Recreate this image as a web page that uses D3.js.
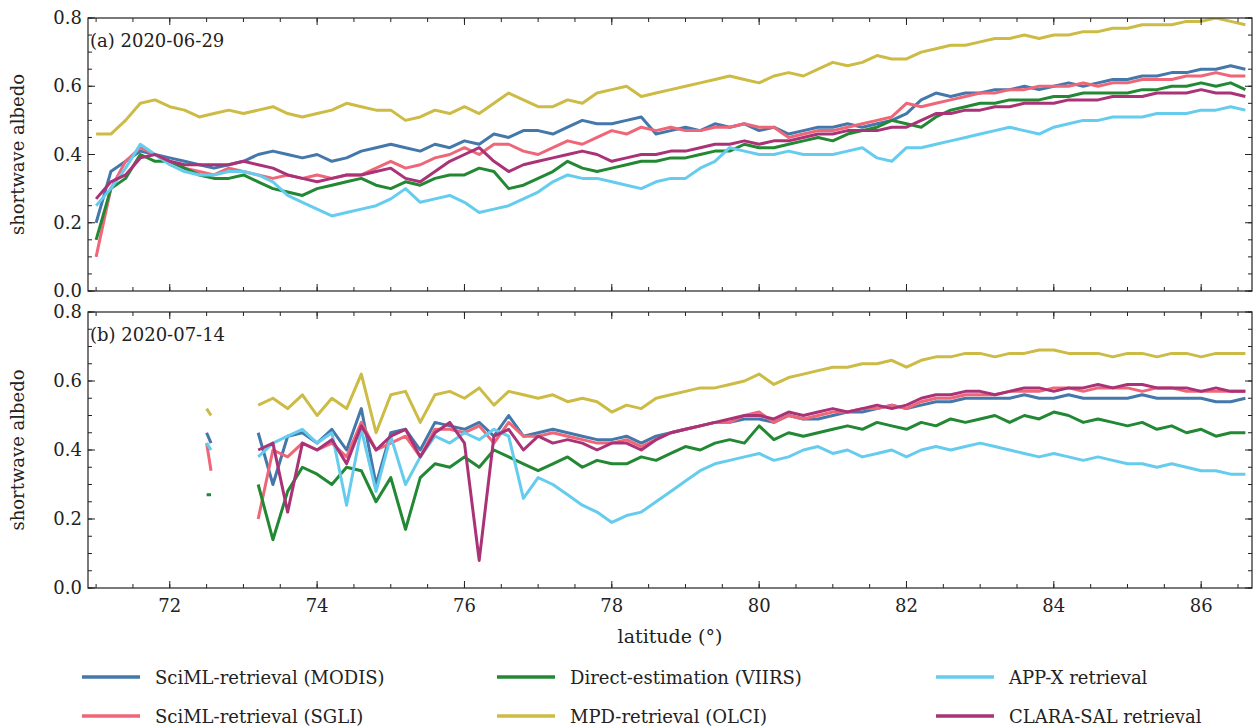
<!DOCTYPE html>
<html><head><meta charset="utf-8">
<script src="https://cdn.jsdelivr.net/npm/d3@7"></script>
<style>body{margin:0;background:#fff}svg text{font-family:"DejaVu Serif","Liberation Serif",serif;fill:#222}</style>
</head><body><div id="chart"></div>
<script>
// latitudes for panel (a): 71.0 .. 86.6 every 0.2
const latA = d3.range(0, 79).map(i => +(71.0 + i * 0.2).toFixed(1));
// panel (b): a short patch at 72.5, gap, then 73.2 .. 86.6
const latB = [72.50, 72.56, 72.62].concat(d3.range(0, 68).map(i => +(73.2 + i * 0.2).toFixed(1)));

const names = ["SciML-retrieval (MODIS)", "SciML-retrieval (SGLI)", "Direct-estimation (VIIRS)",
  "MPD-retrieval (OLCI)", "APP-X retrieval", "CLARA-SAL retrieval"];
const colors = ["#4477AA", "#EE6677", "#228833", "#CCBB44", "#66CCEE", "#AA3377"];

const modisA = [.20,.35,.38,.41,.40,.39,.38,.37,.36,.37, .38,.40,.41,.40,.39,.40,.38,.39,.41,.42,
  .43,.42,.41,.43,.42,.44,.43,.46,.45,.47, .47,.46,.48,.50,.49,.49,.50,.51,.46,.47,
  .48,.47,.49,.48,.49,.47,.48,.46,.47,.48, .48,.49,.48,.49,.50,.52,.56,.58,.57,.58,
  .58,.59,.59,.60,.59,.60,.61,.60,.61,.62, .62,.63,.63,.64,.64,.65,.65,.66,.65];
const sgliA = [.10,.30,.38,.42,.40,.38,.36,.35,.34,.36, .35,.34,.33,.34,.33,.34,.33,.34,.34,.36,
  .38,.36,.37,.39,.40,.42,.40,.43,.43,.41, .40,.42,.44,.43,.45,.47,.46,.48,.47,.48,
  .47,.47,.48,.48,.49,.48,.48,.45,.46,.47, .47,.48,.49,.50,.51,.55,.54,.55,.56,.57,
  .58,.58,.59,.59,.60,.60,.60,.61,.60,.61, .61,.62,.62,.62,.63,.63,.64,.63,.63];
const viirsA = [.15,.30,.33,.40,.38,.38,.36,.34,.33,.33, .34,.32,.30,.29,.28,.30,.31,.32,.33,.31,
  .30,.32,.31,.33,.34,.34,.36,.35,.30,.31, .33,.35,.38,.36,.35,.36,.37,.38,.38,.39,
  .39,.40,.41,.41,.43,.42,.42,.43,.44,.45, .44,.46,.47,.48,.50,.49,.48,.51,.53,.54,
  .55,.55,.56,.56,.56,.57,.57,.58,.58,.58, .58,.59,.59,.60,.60,.61,.60,.61,.59];
const olciA = [.46,.46,.50,.55,.56,.54,.53,.51,.52,.53, .52,.53,.54,.52,.51,.52,.53,.55,.54,.53,
  .53,.50,.51,.53,.52,.54,.52,.55,.58,.56, .54,.54,.56,.55,.58,.59,.60,.57,.58,.59,
  .60,.61,.62,.63,.62,.61,.63,.64,.63,.65, .67,.66,.67,.69,.68,.68,.70,.71,.72,.72,
  .73,.74,.74,.75,.74,.75,.75,.76,.76,.77, .77,.78,.78,.78,.79,.79,.80,.79,.78];
const appxA = [.25,.30,.36,.43,.40,.37,.35,.34,.34,.35, .35,.34,.32,.28,.26,.24,.22,.23,.24,.25,
  .27,.30,.26,.27,.28,.26,.23,.24,.25,.27, .29,.32,.34,.33,.33,.32,.31,.30,.32,.33,
  .33,.36,.38,.42,.41,.40,.40,.41,.40,.40, .40,.41,.42,.39,.38,.42,.42,.43,.44,.45,
  .46,.47,.48,.47,.46,.48,.49,.50,.50,.51, .51,.51,.52,.52,.52,.53,.53,.54,.53];
const claraA = [.27,.32,.34,.39,.40,.38,.37,.37,.37,.37, .38,.37,.36,.34,.33,.32,.33,.34,.34,.35,
  .36,.33,.32,.35,.38,.40,.42,.38,.35,.37, .38,.39,.40,.41,.40,.38,.39,.40,.40,.41,
  .41,.42,.43,.43,.44,.43,.44,.44,.45,.46, .46,.47,.47,.47,.48,.48,.50,.52,.52,.53,
  .53,.54,.54,.55,.55,.55,.56,.56,.56,.57, .57,.57,.58,.58,.58,.59,.58,.58,.57];

const modisB = [.45,.42,null,
  .45,.30,.44,.45,.42,.46,.40,.52,.30,.45,.46,.40,.48,.47,.46,.48,.44,.50,.44,
  .45,.46,.45,.44,.43,.43, .44,.42,.44,.45,.46,.47,.48,.48,.49,
  .49,.48,.50,.49,.49,.50,.51,.51,.52,.53, .52,.53,.54,.54,.55,
  .55,.55,.55,.56,.55,.55,.56,.55,.55,.55,.55,.56,.55,.55,.55,.55,.54,.54,.55];
const sgliB = [.42,.34,null,
  .20,.40,.38,.42,.40,.42,.38,.48,.40,.42,.44,.38,.46,.46,.45,.47,.42,.48,.44,
  .44,.45,.44,.43,.42,.42, .43,.41,.43,.45,.46,.47,.48,.48,.50,
  .51,.48,.50,.49,.50,.51,.51,.52,.52,.53, .52,.54,.55,.55,.56,
  .56,.56,.57,.57,.57,.58,.58,.57,.58,.58,.58,.57,.58,.58,.57,.57,.57,.57,.57];
const viirsB = [.27,.27,null,
  .30,.14,.28,.35,.33,.30,.35,.34,.25,.32,.17,.32,.36,.35,.38,.35,.40,.38,.36,
  .34,.36,.38,.35,.37,.36, .36,.38,.37,.39,.41,.40,.42,.43,.42,
  .47,.43,.45,.44,.45,.46,.47,.46,.48,.47, .46,.48,.47,.49,.48,
  .49,.50,.48,.50,.49,.51,.50,.48,.49,.48,.47,.48,.46,.47,.45,.46,.44,.45,.45];
const olciB = [.52,.50,null,
  .53,.55,.52,.56,.50,.55,.52,.62,.45,.56,.57,.48,.56,.57,.55,.58,.53,.57,.56,
  .55,.56,.54,.55,.54,.51, .53,.52,.55,.56,.57,.58,.58,.59,.60,
  .62,.59,.61,.62,.63,.64,.64,.65,.65,.66, .64,.66,.67,.67,.68,
  .68,.67,.68,.68,.69,.69,.68,.68,.68,.67,.68,.68,.67,.68,.68,.67,.68,.68,.68];
const appxB = [.42,.40,null,
  .38,.42,.44,.46,.42,.45,.24,.46,.28,.44,.30,.38,.44,.42,.45,.43,.46,.44,.26,
  .32,.30,.27,.24,.22,.19, .21,.22,.25,.28,.31,.34,.36,.37,.38,
  .39,.37,.38,.40,.41,.39,.40,.38,.39,.40, .38,.40,.41,.40,.41,
  .42,.41,.40,.39,.38,.39,.38,.37,.38,.37,.36,.36,.35,.36,.35,.34,.34,.33,.33];
const claraB = [null,null,null,
  .40,.42,.22,.42,.40,.43,.36,.47,.40,.44,.46,.38,.45,.48,.42,.08,.44,.46,.40,
  .44,.42,.43,.42,.40,.42, .42,.40,.43,.45,.46,.47,.48,.49,.50,
  .50,.49,.51,.50,.51,.52,.51,.52,.53,.52, .53,.55,.56,.56,.57,
  .57,.56,.57,.58,.58,.57,.58,.58,.59,.58,.59,.59,.58,.58,.58,.57,.58,.57,.57];

const panels = [
  {label: "(a) 2020-06-29", lat: latA, series: [modisA, sgliA, viirsA, olciA, appxA, claraA], top: 18, bottom: 291},
  {label: "(b) 2020-07-14", lat: latB, series: [modisB, sgliB, viirsB, olciB, appxB, claraB], top: 312, bottom: 588}
];

const width = 1256, height = 728;
const left = 88, right = 1252;
const svg = d3.select("#chart").append("svg").attr("width", width).attr("height", height)
  .attr("font-family", "DejaVu Serif, Liberation Serif, serif");

const x = d3.scaleLinear().domain([70.89, 86.69]).range([left, right]);

panels.forEach((p, pi) => {
  const y = d3.scaleLinear().domain([0, 0.8]).range([p.bottom, p.top]);
  const g = svg.append("g");
  g.append("clipPath").attr("id", "clip" + pi).append("rect")
    .attr("x", left).attr("y", p.top).attr("width", right - left).attr("height", p.bottom - p.top);

  const line = d3.line().defined(d => d[1] != null).x(d => x(d[0])).y(d => y(d[1]));
  p.series.forEach((s, i) => {
    g.append("path").attr("clip-path", `url(#clip${pi})`)
      .attr("d", line(p.lat.map((l, j) => [l, s[j]])))
      .attr("fill", "none").attr("stroke", colors[i]).attr("stroke-width", 3)
      .attr("stroke-linejoin", "round");
  });

  // inward ticks on all four sides
  const xMajor = d3.range(72, 87, 2), xMinor = d3.range(71, 86.7, 0.5);
  const yMajor = d3.range(0, 0.81, 0.2), yMinor = d3.range(0, 0.81, 0.05);
  const tk = (xs, len, horiz) => xs.forEach(v => {
    if (horiz) {
      const px = x(v);
      g.append("line").attr("x1", px).attr("x2", px).attr("y1", p.bottom).attr("y2", p.bottom - len).attr("stroke", "#222");
      g.append("line").attr("x1", px).attr("x2", px).attr("y1", p.top).attr("y2", p.top + len).attr("stroke", "#222");
    } else {
      const py = y(v);
      g.append("line").attr("x1", left).attr("x2", left + len).attr("y1", py).attr("y2", py).attr("stroke", "#222");
      g.append("line").attr("x1", right).attr("x2", right - len).attr("y1", py).attr("y2", py).attr("stroke", "#222");
    }
  });
  tk(xMinor, 4, true); tk(xMajor, 7, true); tk(yMinor, 4, false); tk(yMajor, 7, false);

  g.append("rect").attr("x", left).attr("y", p.top).attr("width", right - left).attr("height", p.bottom - p.top)
    .attr("fill", "none").attr("stroke", "#222").attr("stroke-width", 1.2);

  yMajor.forEach(v => g.append("text").attr("x", left - 6).attr("y", y(v) + 6)
    .attr("text-anchor", "end").attr("font-size", 18).text(d3.format(".1f")(v)));
  if (pi === 1) xMajor.forEach(v => g.append("text").attr("x", x(v)).attr("y", p.bottom + 24)
    .attr("text-anchor", "middle").attr("font-size", 18).text(v));

  g.append("text").attr("x", left + 2).attr("y", p.top + 29).attr("font-size", 18).text(p.label);
  g.append("text").attr("transform", `translate(24,${(p.top + p.bottom) / 2}) rotate(-90)`)
    .attr("text-anchor", "middle").attr("font-size", 18).text("shortwave albedo");
});

svg.append("text").attr("x", (left + right) / 2).attr("y", 643).attr("text-anchor", "middle")
  .attr("font-size", 19).text("latitude (°)");

// legend: 3 columns x 2 rows
const colX = [82, 497, 936], rowY = [677, 716];
const order = [0, 2, 4, 1, 3, 5];
order.forEach((si, k) => {
  const cx = colX[k % 3], cy = rowY[Math.floor(k / 3)];
  svg.append("line").attr("x1", cx).attr("x2", cx + 58).attr("y1", cy).attr("y2", cy)
    .attr("stroke", colors[si]).attr("stroke-width", 3.5);
  svg.append("text").attr("x", cx + 73).attr("y", cy + 7).attr("font-size", 18).text(names[si]);
});
</script></body></html>
